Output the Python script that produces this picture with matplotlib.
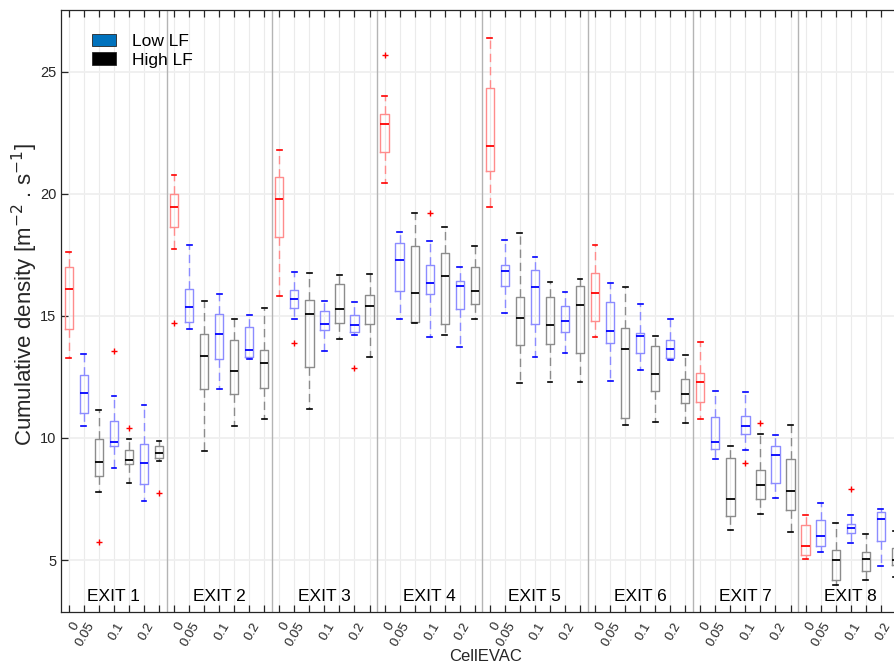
import numpy as np
import matplotlib
matplotlib.use("Agg")
import matplotlib.pyplot as plt
from matplotlib.patches import Patch
from matplotlib.transforms import blended_transform_factory

plt.rcParams['font.family'] = ['Liberation Sans', 'DejaVu Sans']

exits = ['EXIT 1', 'EXIT 2', 'EXIT 3', 'EXIT 4', 'EXIT 5', 'EXIT 6', 'EXIT 7', 'EXIT 8']
configs = ['0', '0.05 Low', '0.05 High', '0.1 Low', '0.1 High', '0.2 Low', '0.2 High']
tick_labels = ['0', '0.05', '0.1', '0.2']

# statistics per box, ordered exit by exit, config by config (7 per exit)
whislo = [13.26, 10.47, 7.77, 8.75, 8.14, 7.40, 9.04,
          17.72, 14.45, 9.45, 11.99, 10.47, 13.24, 10.76,
          15.81, 14.86, 11.18, 13.56, 14.05, 14.21, 13.31,
          20.43, 14.86, 14.69, 14.12, 14.21, 13.71, 14.86,
          19.44, 15.10, 12.24, 13.30, 12.28, 13.46, 12.30,
          14.14, 12.32, 10.52, 12.77, 10.65, 13.18, 10.60,
          10.76, 9.14, 6.23, 9.50, 6.88, 7.53, 6.13,
          5.03, 5.33, 3.96, 5.71, 4.17, 4.75, 4.30]
q1 = [14.45, 11.03, 8.44, 9.67, 8.92, 8.12, 9.16,
      18.66, 14.76, 11.99, 13.22, 11.79, 13.33, 12.06,
      18.25, 15.31, 12.89, 14.42, 14.69, 14.35, 14.66,
      21.70, 16.02, 14.76, 15.88, 14.66, 15.29, 15.47,
      20.92, 16.21, 13.80, 14.66, 13.84, 14.35, 13.49,
      14.77, 13.87, 10.80, 13.46, 11.92, 13.26, 11.42,
      11.46, 9.53, 6.79, 10.15, 7.48, 8.14, 7.03,
      5.20, 5.56, 4.17, 6.12, 4.54, 5.78, 4.78]
med = [16.09, 11.84, 9.00, 9.82, 9.08, 8.98, 9.39,
       19.44, 15.36, 13.35, 14.25, 12.73, 13.59, 13.05,
       19.77, 15.69, 15.07, 14.66, 15.27, 14.62, 15.40,
       22.88, 17.29, 15.92, 16.33, 16.62, 16.21, 16.00,
       21.95, 16.82, 14.90, 16.17, 14.62, 14.77, 15.44,
       15.92, 14.38, 13.63, 14.17, 12.62, 13.63, 11.80,
       12.28, 9.82, 7.48, 10.47, 8.07, 9.29, 7.81,
       5.56, 5.97, 4.99, 6.32, 5.03, 6.68, 4.99]
q3 = [17.00, 12.56, 9.94, 10.68, 9.49, 9.76, 9.66,
      20.00, 16.09, 14.25, 15.06, 14.00, 14.56, 13.59,
      20.68, 16.04, 15.67, 15.21, 16.29, 15.02, 15.84,
      23.25, 17.97, 17.85, 17.10, 17.56, 16.42, 17.00,
      24.32, 17.07, 15.78, 16.86, 15.76, 15.39, 16.22,
      16.77, 15.55, 14.52, 14.28, 13.75, 14.01, 12.40,
      12.64, 10.84, 9.16, 10.88, 8.69, 9.66, 9.12,
      6.42, 6.65, 5.40, 6.47, 5.32, 6.97, 5.50]
whishi = [17.60, 13.42, 11.13, 11.70, 9.94, 11.36, 9.86,
          20.77, 17.89, 15.62, 15.88, 14.86, 15.02, 15.31,
          21.78, 16.78, 16.74, 15.63, 16.66, 15.55, 16.70,
          23.99, 18.42, 19.20, 18.06, 18.66, 16.99, 17.85,
          26.40, 18.09, 18.38, 17.40, 16.37, 15.99, 16.53,
          17.89, 16.33, 16.17, 15.47, 14.16, 14.86, 13.38,
          13.91, 11.91, 9.68, 11.87, 10.17, 10.13, 10.54,
          6.83, 7.35, 6.50, 6.84, 6.05, 7.09, 6.20]
# outliers: (box index 1-based, value)
outlier_box = [3, 4, 5, 7, 8, 16, 20, 22, 25, 46, 47, 53]
outlier_val = [5.74, 13.57, 10.42, 7.73, 14.69, 13.87, 12.85, 25.68, 19.20, 8.96, 10.60, 7.91]

n_cfg = len(configs)
n_box = len(med)
positions = np.arange(1, n_box + 1)

stats = []
for i in range(n_box):
    fl = [v for b, v in zip(outlier_box, outlier_val) if b == i + 1]
    stats.append(dict(whislo=whislo[i], q1=q1[i], med=med[i], q3=q3[i],
                      whishi=whishi[i], fliers=fl))

styles = {
    'red': dict(light='#FF8C8C', full='#FF0000'),
    'blue': dict(light='#8C8CFF', full='#0000FF'),
    'black': dict(light='#8C8C8C', full='#000000'),
}
cfg_color = ['red', 'blue', 'black', 'blue', 'black', 'blue', 'black']

fig = plt.figure(figsize=(8.95, 6.67), dpi=100)
ax_left = 61.3 / 895
ax_bottom = 1 - 612 / 667
ax_w = 842 / 895
ax_h = 602 / 667
ax = fig.add_axes([ax_left, ax_bottom, ax_w, ax_h])

for cname, st in styles.items():
    idx = [i for i in range(n_box) if cfg_color[i % n_cfg] == cname]
    ax.bxp([stats[i] for i in idx], positions=positions[idx], widths=0.55,
           capwidths=0.32, showfliers=True, manage_ticks=False,
           boxprops=dict(color=st['light'], lw=1.0),
           whiskerprops=dict(color=st['light'], lw=1.0, ls=(0, (6, 3.5))),
           capprops=dict(color=st['full'], lw=1.2),
           medianprops=dict(color=st['full'], lw=1.3),
           flierprops=dict(marker='+', markeredgecolor='#FF0000', markersize=5,
                           markeredgewidth=1.0, linestyle='none'))

for g in range(1, len(exits)):
    ax.axvline(g * n_cfg + 0.5, color='#B4B4B4', lw=1.0, zorder=1)

trans = blended_transform_factory(ax.transData, ax.transAxes)
for g, name in enumerate(exits):
    ax.text(g * n_cfg + 4, 0.025, name, transform=trans, ha='center',
            va='center', fontsize=12.5, color='#000000')

ax.set_xlim(0.5, n_box + 0.5)
ax.set_ylim(2.87, 27.53)
ax.set_xticks(positions)
ax.set_xticklabels([])
lbl_pos = [g * n_cfg + o for g in range(len(exits)) for o in (1.5, 2.5, 4.5, 6.5)]
ax.set_xticks(lbl_pos, minor=True)
ax.set_xticklabels(tick_labels * len(exits), minor=True)
ax.set_yticks([5, 10, 15, 20, 25])

ax.tick_params(axis='x', which='major', direction='in', length=5, width=0.9,
               top=True, bottom=True, color='#262626')
ax.tick_params(axis='x', which='minor', length=0, pad=8.0, labelsize=9.5,
               labelcolor='#262626')
ax.tick_params(axis='y', direction='in', length=5, width=0.9, left=True,
               right=True, labelsize=10.5, labelcolor='#262626', color='#262626')
for lab in ax.get_xticklabels(minor=True):
    lab.set_rotation(60)
    lab.set_ha('right')
    lab.set_va('center')
    lab.set_rotation_mode('anchor')

ax.set_axisbelow(True)
ax.grid(axis='x', which='major', color='#EBEBEB', lw=0.8)
ax.grid(axis='y', which='major', color='#EFEFEF', lw=1.3)
for s in ax.spines.values():
    s.set_color('#262626')
    s.set_linewidth(0.9)

ax.set_xlabel('CellEVAC', fontsize=12, color='#262626')
ax.xaxis.set_label_coords((486 - 61.3) / 842, -0.061)
ax.xaxis.label.set_va('top')
ax.set_ylabel('Cumulative density [m$^{-2}$ . s$^{-1}$]', fontsize=16,
              color='#262626')
ax.yaxis.set_label_coords((25 - 61.3) / 842, 0.527)
ax.yaxis.label.set_va('center')

handles = [Patch(facecolor='#0072BD', edgecolor='#262626', lw=0.6, label='Low LF'),
           Patch(facecolor='#000000', edgecolor='#262626', lw=0.6, label='High LF')]
ax.legend(handles=handles, loc='upper left', bbox_to_anchor=(0.028, 0.972),
          frameon=False, fontsize=12.5, handlelength=1.4, handleheight=0.7,
          handletextpad=0.9, labelspacing=0.2, borderaxespad=0)

fig.savefig('out.png', dpi=100)
